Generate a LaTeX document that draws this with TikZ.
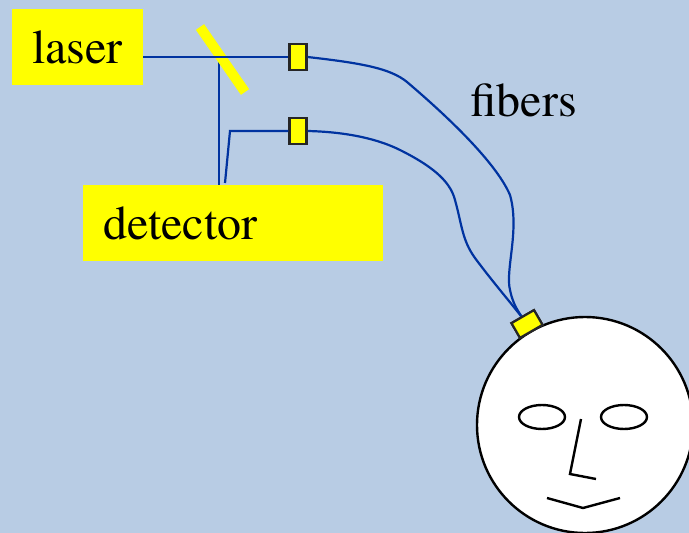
\documentclass[tikz,border=0pt]{standalone}
\usepackage{fontspec}
\setmainfont{TeX Gyre Termes}
\usepackage{tikz}
\usetikzlibrary{positioning}

\definecolor{bgblue}{RGB}{184,204,228}
\definecolor{fiberblue}{RGB}{0,51,160}
\definecolor{lampyellow}{RGB}{255,255,0}

\begin{document}
\begin{tikzpicture}[
    x=1pt, y=-1pt,
    ybox/.style={fill=lampyellow, inner sep=0pt, minimum height=76pt,
                 font=\rmfamily\fontsize{48}{58}\selectfont},
    conn/.style={draw=black!85, fill=lampyellow, line width=2.2pt,
                 minimum width=17pt, minimum height=26pt, inner sep=0pt},
    fiber/.style={draw=fiberblue, line width=2.2pt},
    face/.style={draw=black, line width=2.4pt},
]
%% -- Background --
\fill[bgblue] (0,0) rectangle (689,533);
\useasboundingbox (0,0) rectangle (689,533);
%% -- Source and detector boxes --
\node[ybox, minimum width=131pt](laser) at (77.5,47) {laser};
\node[ybox, text width=260pt, inner xsep=20pt, align=left](det) at (233,223) {detector};
%% -- Fiber couplers --
\node[conn](c1) at (298,57) {};
\node[conn](c2) at (298,131) {};
%% -- Beam path through the splitter --
\coordinate (bs) at (219,56);
\draw[fiber] (bs) -- (bs |- det.north);
\draw[line width=10pt, lampyellow] (200,27) -- (245,92);
\draw[fiber] (c1.west -| laser.east) -- (c1.west);
\coordinate (rx) at (225,183);
\draw[fiber] (rx) -- (230,131) -- (c2.west);
%% -- Head with probe --
\draw[face, fill=white] (585,425) circle[radius=108pt];
\draw[face] (542,417) ellipse[x radius=23pt, y radius=12pt];
\draw[face] (624,417) ellipse[x radius=23pt, y radius=12pt];
\draw[face] (581,419) -- (570,474) -- (596,479);
\draw[face] (547,498) -- (583,508) -- (620,498);
\node[conn, minimum width=26pt, minimum height=17pt, rotate=30](probe) at (527,324) {};
%% -- Fibers to the probe --
\draw[fiber] (c1.east) .. controls (360,63) and (390,68) .. (407,82)
  .. controls (440,110) and (495,160) .. (510,195)
  .. controls (520,230) and (505,270) .. (510,290)
  .. controls (513,305) and (519,313) .. (probe.center);
\draw[fiber] (c2.east) .. controls (350,132) and (380,140) .. (400,150)
  .. controls (430,165) and (450,180) .. (455,200)
  .. controls (462,225) and (462,240) .. (475,258)
  .. controls (495,285) and (513,305) .. (probe.center);
\node[conn, minimum width=26pt, minimum height=17pt, rotate=30] at (probe) {};
\node[font=\rmfamily\fontsize{48}{58}\selectfont, inner sep=0pt, anchor=base west](fib) at (470,116) {fibers};
\end{tikzpicture}
\end{document}
